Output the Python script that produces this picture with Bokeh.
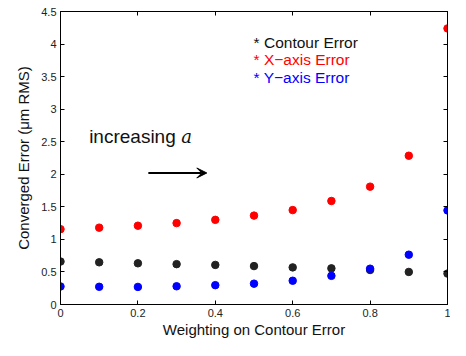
from bokeh.plotting import figure
from bokeh.models import Range1d, LinearAxis, Label, Arrow, VeeHead, FixedTicker
from bokeh.embed import file_html
from bokeh.resources import INLINE

weights = [0.0, 0.1, 0.2, 0.3, 0.4, 0.5, 0.6, 0.7, 0.8, 0.9, 1.0]
contour_err = [0.66, 0.648, 0.633, 0.62, 0.608, 0.59, 0.57, 0.555, 0.53, 0.50, 0.475]
x_err = [1.157, 1.18, 1.21, 1.25, 1.30, 1.365, 1.45, 1.59, 1.81, 2.285, 4.24]
y_err = [0.277, 0.272, 0.27, 0.28, 0.297, 0.32, 0.365, 0.44, 0.55, 0.765, 1.445]

x_ticks = [0, 0.2, 0.4, 0.6, 0.8, 1.0]
x_tick_labels = ["0", "0.2", "0.4", "0.6", "0.8", "1"]
y_ticks = [0, 0.5, 1, 1.5, 2, 2.5, 3, 3.5, 4, 4.5]
y_tick_labels = ["0", "0.5", "1", "1.5", "2", "2.5", "3", "3.5", "4", "4.5"]

FONT = "Liberation Sans"

p = figure(width=450, height=340, output_backend="svg", toolbar_location=None,
           x_range=Range1d(0, 1), y_range=Range1d(0, 4.5),
           min_border_left=60, min_border_right=3, min_border_top=11, min_border_bottom=34)
p.grid.visible = False
p.outline_line_color = "black"
p.outline_line_width = 1
p.background_fill_color = "white"
p.border_fill_color = "white"

def style(ax, labels=True):
    ax.major_tick_in = 4
    ax.major_tick_out = 0
    ax.minor_tick_line_color = None
    ax.axis_line_color = "black"
    ax.major_tick_line_color = "black"
    ax.major_label_text_font = FONT
    ax.major_label_text_font_size = "11px"
    ax.major_label_text_color = "#222222"
    if not labels:
        ax.major_label_text_color = None
        ax.major_label_text_alpha = 0

p.xaxis.ticker = FixedTicker(ticks=x_ticks)
p.xaxis.major_label_overrides = {t: l for t, l in zip(x_ticks, x_tick_labels)}
p.yaxis.ticker = FixedTicker(ticks=y_ticks)
p.yaxis.major_label_overrides = {t: l for t, l in zip(y_ticks, y_tick_labels)}
style(p.xaxis[0]); style(p.yaxis[0])
p.xaxis.major_label_standoff = 4
p.yaxis.major_label_standoff = 4
p.xaxis.axis_label = "Weighting on Contour Error"
p.yaxis.axis_label = "Converged Error (\u03bcm RMS)"
for ax in (p.xaxis[0], p.yaxis[0]):
    ax.axis_label_text_font = FONT
    ax.axis_label_text_font_size = "15px"
    ax.axis_label_text_font_style = "normal"
    ax.axis_label_text_color = "#111111"
p.xaxis.axis_label_standoff = 1
p.yaxis.axis_label_standoff = 6

top = LinearAxis(ticker=FixedTicker(ticks=x_ticks))
right = LinearAxis(ticker=FixedTicker(ticks=y_ticks))
style(top, False); style(right, False)
top.major_label_standoff = 0
right.major_label_standoff = 0
p.add_layout(top, "above")
p.add_layout(right, "right")

p.scatter(weights, contour_err, size=7.5, color="#222222")
p.scatter(weights, x_err, size=7.5, color="#ff0000")
p.scatter(weights, y_err, size=7.5, color="#0000ff")

leg = [("* Contour Error", "#111111"), ("* X\u2212axis Error", "#ff0000"), ("* Y\u2212axis Error", "#0000ff")]
for i, (txt, col) in enumerate(leg):
    y = 4.025 - i * 0.267
    p.add_layout(Label(x=0.499, y=y, text=txt, text_color=col, text_font=FONT,
                       text_font_size="15.5px", text_baseline="alphabetic"))

p.add_layout(Label(x=0.074, y=2.584, text="increasing", text_font=FONT, text_font_size="19px",
                   text_color="#111111", text_baseline="alphabetic"))
p.add_layout(Label(x=0.312, y=2.584, text="a", text_font="DejaVu Serif", text_font_style="italic",
                   text_font_size="18px", text_color="#111111", text_baseline="alphabetic"))
p.add_layout(Arrow(x_start=0.227, y_start=2.02, x_end=0.378, y_end=2.02, line_width=2,
                   line_color="black",
                   end=VeeHead(size=10, fill_color="black", line_color="black")))

open("out.html", "w").write(file_html(p, INLINE))
